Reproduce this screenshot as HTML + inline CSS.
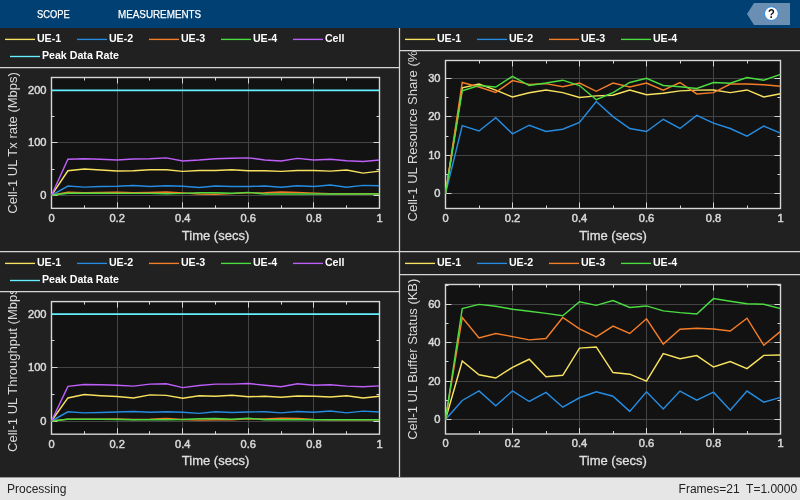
<!DOCTYPE html>
<html lang="en">
<head>
<meta charset="utf-8">
<title>Scope</title>
<style>
html,body{margin:0;padding:0;}
body{width:800px;height:500px;overflow:hidden;background:#212121;font-family:"Liberation Sans",sans-serif;position:relative;}
#toolbar{position:absolute;left:0;top:0;width:800px;height:28px;background:#004073;color:#fff;}
#toolbar .tab{position:absolute;top:0;height:28px;line-height:29.6px;font-size:11px;-webkit-text-stroke:0.25px #fff;white-space:nowrap;transform-origin:0 50%;}
#tab1{left:36.6px;transform:scaleX(0.85);}
#tab2{left:117.6px;transform:scaleX(0.895);}
#help{position:absolute;left:747px;top:3px;width:43px;height:22px;}
#scope{position:absolute;left:0;top:28px;width:800px;height:449px;background:#212121;}
#scope svg{display:block;}
#status{position:absolute;left:0;top:477px;width:800px;height:23px;background:#e6e6e6;border-top:1px solid #979797;box-sizing:border-box;color:#222;font-size:12px;line-height:23px;}
#status .l{position:absolute;left:7px;top:0px;}
#status .r{position:absolute;right:2.9px;top:0px;white-space:pre;}
</style>
</head>
<body>
<div id="toolbar">
<div class="tab" id="tab1">SCOPE</div>
<div class="tab" id="tab2">MEASUREMENTS</div>
<svg id="help" viewBox="0 0 43 22" font-family="Liberation Sans, sans-serif">
<path d="M0 11L7 0H43V22H7Z" fill="#6a8fb3"/>
<circle cx="24.4" cy="10.6" r="6.9" fill="#fff" stroke="#2a8ae0" stroke-width="1"/>
<text transform="translate(24.4 14.8) scale(0.9 1)" text-anchor="middle" font-size="12.4" font-weight="bold" fill="#111">?</text>
</svg>
</div>
<div id="scope">
<svg width="800" height="449" viewBox="0 28 800 449" font-family="Liberation Sans, sans-serif">
<defs>
<clipPath id="cA"><rect x="0" y="68" width="399" height="183"/></clipPath>
<clipPath id="cB"><rect x="400" y="51" width="400" height="200"/></clipPath>
<clipPath id="cC"><rect x="0" y="292" width="399" height="185"/></clipPath>
<clipPath id="cD"><rect x="400" y="275" width="400" height="202"/></clipPath>
</defs>
<path d="M0 67.5H399.5M400 50.5H800M0 251.5H800M0 291.5H399.5M400 274.5H800M399.5 28V477" stroke="#d6d6d6" stroke-width="1.25" fill="none"/>
<g fill="#ffffff" font-size="10.67" font-weight="bold">
<path d="M5 39.4h30" stroke="#f8e25f" stroke-width="1.35"/>
<text x="36.9" y="41.8">UE-1</text>
<path d="M77 39.4h30" stroke="#268ce1" stroke-width="1.35"/>
<text x="108.9" y="41.8">UE-2</text>
<path d="M149 39.4h30" stroke="#f57d28" stroke-width="1.35"/>
<text x="180.9" y="41.8">UE-3</text>
<path d="M221 39.4h30" stroke="#4bdc41" stroke-width="1.35"/>
<text x="252.9" y="41.8">UE-4</text>
<path d="M293 39.4h30" stroke="#be5ffa" stroke-width="1.35"/>
<text x="324.9" y="41.8">Cell</text>
<path d="M10 56.5h30" stroke="#64f0ff" stroke-width="1.35"/>
<text x="41.9" y="58.9">Peak Data Rate</text>
<path d="M405 39.4h30" stroke="#f8e25f" stroke-width="1.35"/>
<text x="436.9" y="41.8">UE-1</text>
<path d="M477 39.4h30" stroke="#268ce1" stroke-width="1.35"/>
<text x="508.9" y="41.8">UE-2</text>
<path d="M549 39.4h30" stroke="#f57d28" stroke-width="1.35"/>
<text x="580.9" y="41.8">UE-3</text>
<path d="M621 39.4h30" stroke="#4bdc41" stroke-width="1.35"/>
<text x="652.9" y="41.8">UE-4</text>
<path d="M5 263.4h30" stroke="#f8e25f" stroke-width="1.35"/>
<text x="36.9" y="265.79999999999995">UE-1</text>
<path d="M77 263.4h30" stroke="#268ce1" stroke-width="1.35"/>
<text x="108.9" y="265.79999999999995">UE-2</text>
<path d="M149 263.4h30" stroke="#f57d28" stroke-width="1.35"/>
<text x="180.9" y="265.79999999999995">UE-3</text>
<path d="M221 263.4h30" stroke="#4bdc41" stroke-width="1.35"/>
<text x="252.9" y="265.79999999999995">UE-4</text>
<path d="M293 263.4h30" stroke="#be5ffa" stroke-width="1.35"/>
<text x="324.9" y="265.79999999999995">Cell</text>
<path d="M10 280.5h30" stroke="#64f0ff" stroke-width="1.35"/>
<text x="41.9" y="282.9">Peak Data Rate</text>
<path d="M405 263.4h30" stroke="#f8e25f" stroke-width="1.35"/>
<text x="436.9" y="265.79999999999995">UE-1</text>
<path d="M477 263.4h30" stroke="#268ce1" stroke-width="1.35"/>
<text x="508.9" y="265.79999999999995">UE-2</text>
<path d="M549 263.4h30" stroke="#f57d28" stroke-width="1.35"/>
<text x="580.9" y="265.79999999999995">UE-3</text>
<path d="M621 263.4h30" stroke="#4bdc41" stroke-width="1.35"/>
<text x="652.9" y="265.79999999999995">UE-4</text>
</g>
<g id="axes-tx-rate">
<rect x="51.5" y="77.5" width="328" height="130.85" fill="#121212"/>
<path d="M117.5 77.5V208.35M182.5 77.5V208.35M248.5 77.5V208.35M313.5 77.5V208.35M51.5 195.5H379.5M51.5 142.5H379.5M51.5 90.5H379.5" stroke="#444444" stroke-width="1" fill="none"/>
<path d="M51.5 208.35v-6M51.5 77.5v6M84.5 208.35v-3M84.5 77.5v3M117.5 208.35v-6M117.5 77.5v6M149.5 208.35v-3M149.5 77.5v3M182.5 208.35v-6M182.5 77.5v6M215.5 208.35v-3M215.5 77.5v3M248.5 208.35v-6M248.5 77.5v6M281.5 208.35v-3M281.5 77.5v3M313.5 208.35v-6M313.5 77.5v6M346.5 208.35v-3M346.5 77.5v3M379.5 208.35v-6M379.5 77.5v6M51.5 195.5h6M379.5 195.5h-6M51.5 142.5h6M379.5 142.5h-6M51.5 90.5h6M379.5 90.5h-6M51.5 169.5h3M379.5 169.5h-3M51.5 116.5h3M379.5 116.5h-3" stroke="#d6d6d6" stroke-width="1" fill="none"/>
<rect x="51.5" y="77.5" width="328" height="130.85" fill="none" stroke="#d6d6d6" stroke-width="1.4"/>
<clipPath id="k1"><rect x="50.9" y="77.5" width="328.6" height="130.85"/></clipPath>
<g clip-path="url(#k1)" fill="none" stroke-linejoin="miter" stroke-miterlimit="6">
<polyline points="51.5,195.3 67.9,170.8 84.3,168.92 100.7,170.01 117.1,170.9 133.5,170.69 149.9,169.7 166.3,169.7 182.7,171.37 199.1,170.49 215.5,170.59 231.9,169.7 248.3,170.8 264.7,170.8 281.1,171.37 297.5,170.49 313.9,170.59 330.3,171.11 346.7,170.01 363.1,173.1 379.5,171.11" stroke="#f8e25f" stroke-width="1.45"/>
<polyline points="51.5,195.3 67.9,186.02 84.3,187.12 100.7,186.59 117.1,186.33 133.5,185.6 149.9,186.59 166.3,185.81 182.7,186.28 199.1,187.48 215.5,185.91 231.9,186.59 248.3,186.59 264.7,186.02 281.1,187.33 297.5,185.81 313.9,186.59 330.3,185.08 346.7,187.33 363.1,185.39 379.5,185.81" stroke="#268ce1" stroke-width="1.45"/>
<polyline points="51.5,195.3 67.9,192.35 84.3,192.61 100.7,192.4 117.1,192.29 133.5,192.61 149.9,192.35 166.3,191.98 182.7,192.87 199.1,193.92 215.5,194.18 231.9,193.65 248.3,192.87 264.7,192.82 281.1,192.08 297.5,192.35 313.9,193.13 330.3,193.65 346.7,193.65 363.1,193.65 379.5,193.65" stroke="#f57d28" stroke-width="1.45"/>
<polyline points="51.5,195.3 67.9,193.29 84.3,193.29 100.7,193.29 117.1,193.39 133.5,193.39 149.9,193.39 166.3,193.65 182.7,193.39 199.1,192.71 215.5,192.71 231.9,193.29 248.3,192.4 264.7,193.92 281.1,193.92 297.5,193.92 313.9,193.92 330.3,193.92 346.7,193.92 363.1,193.92 379.5,193.92" stroke="#4bdc41" stroke-width="1.45"/>
<polyline points="51.5,195.3 67.9,159.29 84.3,158.82 100.7,159.29 117.1,160.08 133.5,158.98 149.9,158.82 166.3,157.88 182.7,160.91 199.1,160.08 215.5,158.67 231.9,158.19 248.3,157.88 264.7,159.92 281.1,161.02 297.5,158.4 313.9,159.92 330.3,159.19 346.7,160.7 363.1,161.49 379.5,159.92" stroke="#be5ffa" stroke-width="1.45"/>
<polyline points="51.5,90.4 67.9,90.4 84.3,90.4 100.7,90.4 117.1,90.4 133.5,90.4 149.9,90.4 166.3,90.4 182.7,90.4 199.1,90.4 215.5,90.4 231.9,90.4 248.3,90.4 264.7,90.4 281.1,90.4 297.5,90.4 313.9,90.4 330.3,90.4 346.7,90.4 363.1,90.4 379.5,90.4" stroke="#64f0ff" stroke-width="1.7"/>
</g>
<g fill="#d8d8d8" font-size="11.1" stroke="#d8d8d8" stroke-width="0.5">
<text x="51.5" y="221.75" text-anchor="middle">0</text>
<text x="117.1" y="221.75" text-anchor="middle">0.2</text>
<text x="182.7" y="221.75" text-anchor="middle">0.4</text>
<text x="248.3" y="221.75" text-anchor="middle">0.6</text>
<text x="313.9" y="221.75" text-anchor="middle">0.8</text>
<text x="379.5" y="221.75" text-anchor="middle">1</text>
<text x="46.5" y="198.85" text-anchor="end">0</text>
<text x="46.5" y="146.4" text-anchor="end">100</text>
<text x="46.5" y="93.95" text-anchor="end">200</text>
</g>
<text transform="translate(215.5 239.55) scale(0.963 1)" text-anchor="middle" fill="#e0e0e0" stroke="#e0e0e0" stroke-width="0.3" font-size="13.5">Time (secs)</text>
<g clip-path="url(#cA)"><text transform="translate(16.9 142.93) rotate(-90) scale(0.963 1)" text-anchor="middle" fill="#dadada" font-size="13.5">Cell-1 UL Tx rate (Mbps)</text></g>
</g><g id="axes-resource-share">
<rect x="445.5" y="60.5" width="335" height="148" fill="#121212"/>
<path d="M512.5 60.5V208.5M579.5 60.5V208.5M646.5 60.5V208.5M713.5 60.5V208.5M445.5 193.5H780.5M445.5 155.5H780.5M445.5 116.5H780.5M445.5 78.5H780.5" stroke="#444444" stroke-width="1" fill="none"/>
<path d="M445.5 208.5v-6M445.5 60.5v6M479.5 208.5v-3M479.5 60.5v3M512.5 208.5v-6M512.5 60.5v6M546.5 208.5v-3M546.5 60.5v3M579.5 208.5v-6M579.5 60.5v6M613.5 208.5v-3M613.5 60.5v3M646.5 208.5v-6M646.5 60.5v6M680.5 208.5v-3M680.5 60.5v3M713.5 208.5v-6M713.5 60.5v6M747.5 208.5v-3M747.5 60.5v3M780.5 208.5v-6M780.5 60.5v6M445.5 193.5h6M780.5 193.5h-6M445.5 155.5h6M780.5 155.5h-6M445.5 116.5h6M780.5 116.5h-6M445.5 78.5h6M780.5 78.5h-6M445.5 174.5h3M780.5 174.5h-3M445.5 136.5h3M780.5 136.5h-3M445.5 97.5h3M780.5 97.5h-3" stroke="#d6d6d6" stroke-width="1" fill="none"/>
<rect x="445.5" y="60.5" width="335" height="148" fill="none" stroke="#d6d6d6" stroke-width="1.4"/>
<clipPath id="k2"><rect x="444.9" y="60.5" width="335.6" height="148"/></clipPath>
<g clip-path="url(#k2)" fill="none" stroke-linejoin="miter" stroke-miterlimit="6">
<polyline points="445.5,193.5 462.25,87.83 479,84 495.75,90.13 512.5,97.03 529.25,92.82 546,89.94 562.75,92.63 579.5,97.42 596.25,95.88 613,95.31 629.75,89.94 646.5,94.73 663.25,93.2 680,90.9 696.75,90.13 713.5,89.94 730.25,92.63 747,89.94 763.75,97.03 780.5,93.78" stroke="#f8e25f" stroke-width="1.45"/>
<polyline points="445.5,193.5 462.25,125.59 479,130.96 495.75,117.73 512.5,133.83 529.25,125.21 546,131.53 562.75,129.23 579.5,122.33 596.25,101.44 613,116.58 629.75,128.47 646.5,131.53 663.25,119.27 680,128.47 696.75,115.43 713.5,123.1 730.25,128.47 747,136.13 763.75,126.17 780.5,133.07" stroke="#268ce1" stroke-width="1.45"/>
<polyline points="445.5,193.5 462.25,82.47 479,87.07 495.75,92.43 512.5,80.55 529.25,84.38 546,83.62 562.75,86.68 579.5,83.04 596.25,91.28 613,83.04 629.75,87.07 646.5,83.04 663.25,90.13 680,82.47 696.75,93.97 713.5,92.63 730.25,84 747,84 763.75,84.77 780.5,86.3" stroke="#f57d28" stroke-width="1.45"/>
<polyline points="445.5,193.5 462.25,90.9 479,85.53 495.75,87.07 512.5,76.33 529.25,85.53 546,83.04 562.75,80.17 579.5,85.53 596.25,99.72 613,92.63 629.75,82.47 646.5,78.25 663.25,85.53 680,86.68 696.75,88.41 713.5,82.47 730.25,83.23 747,77.48 763.75,80.17 780.5,74.42" stroke="#4bdc41" stroke-width="1.45"/>
</g>
<g fill="#d8d8d8" font-size="11.1" stroke="#d8d8d8" stroke-width="0.5">
<text x="445.5" y="221.9" text-anchor="middle">0</text>
<text x="512.5" y="221.9" text-anchor="middle">0.2</text>
<text x="579.5" y="221.9" text-anchor="middle">0.4</text>
<text x="646.5" y="221.9" text-anchor="middle">0.6</text>
<text x="713.5" y="221.9" text-anchor="middle">0.8</text>
<text x="780.5" y="221.9" text-anchor="middle">1</text>
<text x="440.5" y="197.05" text-anchor="end">0</text>
<text x="440.5" y="158.72" text-anchor="end">10</text>
<text x="440.5" y="120.38" text-anchor="end">20</text>
<text x="440.5" y="82.05" text-anchor="end">30</text>
</g>
<text transform="translate(613 239.7) scale(0.963 1)" text-anchor="middle" fill="#e0e0e0" stroke="#e0e0e0" stroke-width="0.3" font-size="13.5">Time (secs)</text>
<g clip-path="url(#cB)"><text transform="translate(417.4 133.9) rotate(-90) scale(0.963 1)" text-anchor="middle" fill="#dadada" font-size="13.5">Cell-1 UL Resource Share (%)</text></g>
</g><g id="axes-throughput">
<rect x="51.5" y="301.6" width="328" height="132.6" fill="#121212"/>
<path d="M117.5 301.6V434.2M182.5 301.6V434.2M248.5 301.6V434.2M313.5 301.6V434.2M51.5 421.5H379.5M51.5 367.5H379.5M51.5 314.5H379.5" stroke="#444444" stroke-width="1" fill="none"/>
<path d="M51.5 434.2v-6M51.5 301.6v6M84.5 434.2v-3M84.5 301.6v3M117.5 434.2v-6M117.5 301.6v6M149.5 434.2v-3M149.5 301.6v3M182.5 434.2v-6M182.5 301.6v6M215.5 434.2v-3M215.5 301.6v3M248.5 434.2v-6M248.5 301.6v6M281.5 434.2v-3M281.5 301.6v3M313.5 434.2v-6M313.5 301.6v6M346.5 434.2v-3M346.5 301.6v3M379.5 434.2v-6M379.5 301.6v6M51.5 421.5h6M379.5 421.5h-6M51.5 367.5h6M379.5 367.5h-6M51.5 314.5h6M379.5 314.5h-6M51.5 394.5h3M379.5 394.5h-3M51.5 340.5h3M379.5 340.5h-3" stroke="#d6d6d6" stroke-width="1" fill="none"/>
<rect x="51.5" y="301.6" width="328" height="132.6" fill="none" stroke="#d6d6d6" stroke-width="1.4"/>
<clipPath id="k3"><rect x="50.9" y="301.6" width="328.6" height="132.6"/></clipPath>
<g clip-path="url(#k3)" fill="none" stroke-linejoin="miter" stroke-miterlimit="6">
<polyline points="51.5,421 67.9,397.95 84.3,394.56 100.7,395.67 117.1,396.57 133.5,397.95 149.9,394.87 166.3,395.35 182.7,398.17 199.1,395.67 215.5,396.26 231.9,395.35 248.3,396.84 264.7,396.26 281.1,397.16 297.5,396.04 313.9,396.26 330.3,397.05 346.7,395.67 363.1,397.95 379.5,396.26" stroke="#f8e25f" stroke-width="1.45"/>
<polyline points="51.5,421 67.9,411.76 84.3,412.88 100.7,412.56 117.1,411.97 133.5,411.44 149.9,412.34 166.3,411.76 182.7,412.24 199.1,413.35 215.5,411.76 231.9,412.56 248.3,411.97 264.7,411.76 281.1,412.88 297.5,411.44 313.9,412.34 330.3,410.91 346.7,412.88 363.1,411.12 379.5,411.97" stroke="#268ce1" stroke-width="1.45"/>
<polyline points="51.5,421 67.9,419.14 84.3,419.3 100.7,419.14 117.1,418.88 133.5,419.41 149.9,419.14 166.3,418.5 182.7,419.41 199.1,420.1 215.5,419.83 231.9,419.67 248.3,418.88 264.7,418.93 281.1,418.19 297.5,418.5 313.9,419.41 330.3,419.67 346.7,419.67 363.1,419.67 379.5,419.67" stroke="#f57d28" stroke-width="1.45"/>
<polyline points="51.5,421 67.9,419.3 84.3,419.3 100.7,419.3 117.1,419.41 133.5,419.67 149.9,419.67 166.3,419.67 182.7,419.41 199.1,418.77 215.5,418.5 231.9,419.3 248.3,418.19 264.7,419.67 281.1,419.83 297.5,419.83 313.9,419.67 330.3,419.67 346.7,419.67 363.1,419.67 379.5,419.67" stroke="#4bdc41" stroke-width="1.45"/>
<polyline points="51.5,421 67.9,386.33 84.3,384.41 100.7,384.68 117.1,385.21 133.5,386.11 149.9,384.1 166.3,383.67 182.7,387.6 199.1,385.58 215.5,384.1 231.9,384.1 248.3,383.56 264.7,385.21 281.1,386.7 297.5,383.67 313.9,385.21 330.3,384.79 346.7,386.11 363.1,386.8 379.5,385.9" stroke="#be5ffa" stroke-width="1.45"/>
<polyline points="51.5,314.1 67.9,314.1 84.3,314.1 100.7,314.1 117.1,314.1 133.5,314.1 149.9,314.1 166.3,314.1 182.7,314.1 199.1,314.1 215.5,314.1 231.9,314.1 248.3,314.1 264.7,314.1 281.1,314.1 297.5,314.1 313.9,314.1 330.3,314.1 346.7,314.1 363.1,314.1 379.5,314.1" stroke="#64f0ff" stroke-width="1.7"/>
</g>
<g fill="#d8d8d8" font-size="11.1" stroke="#d8d8d8" stroke-width="0.5">
<text x="51.5" y="447.6" text-anchor="middle">0</text>
<text x="117.1" y="447.6" text-anchor="middle">0.2</text>
<text x="182.7" y="447.6" text-anchor="middle">0.4</text>
<text x="248.3" y="447.6" text-anchor="middle">0.6</text>
<text x="313.9" y="447.6" text-anchor="middle">0.8</text>
<text x="379.5" y="447.6" text-anchor="middle">1</text>
<text x="46.5" y="424.55" text-anchor="end">0</text>
<text x="46.5" y="371.1" text-anchor="end">100</text>
<text x="46.5" y="317.65" text-anchor="end">200</text>
</g>
<text transform="translate(215.5 465.4) scale(0.963 1)" text-anchor="middle" fill="#e0e0e0" stroke="#e0e0e0" stroke-width="0.3" font-size="13.5">Time (secs)</text>
<g clip-path="url(#cC)"><text transform="translate(16.9 367.9) rotate(-90) scale(0.963 1)" text-anchor="middle" fill="#dadada" font-size="13.55">Cell-1 UL Throughput (Mbps)</text></g>
</g><g id="axes-buffer-status">
<rect x="445.5" y="284.5" width="335" height="149.5" fill="#121212"/>
<path d="M512.5 284.5V434M579.5 284.5V434M646.5 284.5V434M713.5 284.5V434M445.5 419.5H780.5M445.5 381.5H780.5M445.5 342.5H780.5M445.5 304.5H780.5" stroke="#444444" stroke-width="1" fill="none"/>
<path d="M445.5 434v-6M445.5 284.5v6M479.5 434v-3M479.5 284.5v3M512.5 434v-6M512.5 284.5v6M546.5 434v-3M546.5 284.5v3M579.5 434v-6M579.5 284.5v6M613.5 434v-3M613.5 284.5v3M646.5 434v-6M646.5 284.5v6M680.5 434v-3M680.5 284.5v3M713.5 434v-6M713.5 284.5v6M747.5 434v-3M747.5 284.5v3M780.5 434v-6M780.5 284.5v6M445.5 419.5h6M780.5 419.5h-6M445.5 381.5h6M780.5 381.5h-6M445.5 342.5h6M780.5 342.5h-6M445.5 304.5h6M780.5 304.5h-6M445.5 400.5h3M780.5 400.5h-3M445.5 361.5h3M780.5 361.5h-3M445.5 323.5h3M780.5 323.5h-3M445.5 285.5h3M780.5 285.5h-3" stroke="#d6d6d6" stroke-width="1" fill="none"/>
<rect x="445.5" y="284.5" width="335" height="149.5" fill="none" stroke="#d6d6d6" stroke-width="1.4"/>
<clipPath id="k4"><rect x="444.9" y="284.5" width="335.6" height="149.5"/></clipPath>
<g clip-path="url(#k4)" fill="none" stroke-linejoin="miter" stroke-miterlimit="6">
<polyline points="445.5,419.5 462.25,360.96 479,374.76 495.75,378.02 512.5,367.29 529.25,359.23 546,376.68 562.75,375.34 579.5,348.11 596.25,346.96 613,372.56 629.75,374.19 646.5,381.19 663.25,353.67 680,358.66 696.75,355.59 713.5,367 730.25,361.53 747,368.63 763.75,355.4 780.5,355.01" stroke="#f8e25f" stroke-width="1.45"/>
<polyline points="445.5,419.5 462.25,400.46 479,390.87 495.75,405.83 512.5,390.87 529.25,401.51 546,392.4 562.75,407.17 579.5,397.77 596.25,391.83 613,396.24 629.75,411.39 646.5,391.83 663.25,408.99 680,391.06 696.75,400.07 713.5,392.21 730.25,410.24 747,391.06 763.75,402.18 780.5,397.39" stroke="#268ce1" stroke-width="1.45"/>
<polyline points="445.5,419.5 462.25,317.43 479,337.95 495.75,333.44 512.5,336.61 529.25,339.87 546,338.52 562.75,317.43 579.5,328.94 596.25,336.8 613,326.06 629.75,333.44 646.5,318.77 663.25,344.08 680,329.32 696.75,328.26 713.5,328.94 730.25,331.05 747,318.2 763.75,345.23 780.5,331.43" stroke="#f57d28" stroke-width="1.45"/>
<polyline points="445.5,419.5 462.25,308.61 479,304.39 495.75,306.21 512.5,309.19 529.25,311.29 546,313.4 562.75,315.8 579.5,301.71 596.25,305.35 613,300.56 629.75,307.46 646.5,305.93 663.25,310.91 680,312.64 696.75,313.98 713.5,298.64 730.25,301.32 747,303.82 763.75,304.2 780.5,308.61" stroke="#4bdc41" stroke-width="1.45"/>
</g>
<g fill="#d8d8d8" font-size="11.1" stroke="#d8d8d8" stroke-width="0.5">
<text x="445.5" y="447.4" text-anchor="middle">0</text>
<text x="512.5" y="447.4" text-anchor="middle">0.2</text>
<text x="579.5" y="447.4" text-anchor="middle">0.4</text>
<text x="646.5" y="447.4" text-anchor="middle">0.6</text>
<text x="713.5" y="447.4" text-anchor="middle">0.8</text>
<text x="780.5" y="447.4" text-anchor="middle">1</text>
<text x="440.5" y="423.05" text-anchor="end">0</text>
<text x="440.5" y="384.72" text-anchor="end">20</text>
<text x="440.5" y="346.38" text-anchor="end">40</text>
<text x="440.5" y="308.05" text-anchor="end">60</text>
</g>
<text transform="translate(613 465.2) scale(0.963 1)" text-anchor="middle" fill="#e0e0e0" stroke="#e0e0e0" stroke-width="0.3" font-size="13.5">Time (secs)</text>
<g clip-path="url(#cD)"><text transform="translate(417.4 359.25) rotate(-90) scale(0.963 1)" text-anchor="middle" fill="#dadada" font-size="13.45">Cell-1 UL Buffer Status (KB)</text></g>
</g>
</svg>
</div>
<div id="status"><span class="l">Processing</span><span class="r">Frames=21  T=1.0000</span></div>
</body>
</html>
